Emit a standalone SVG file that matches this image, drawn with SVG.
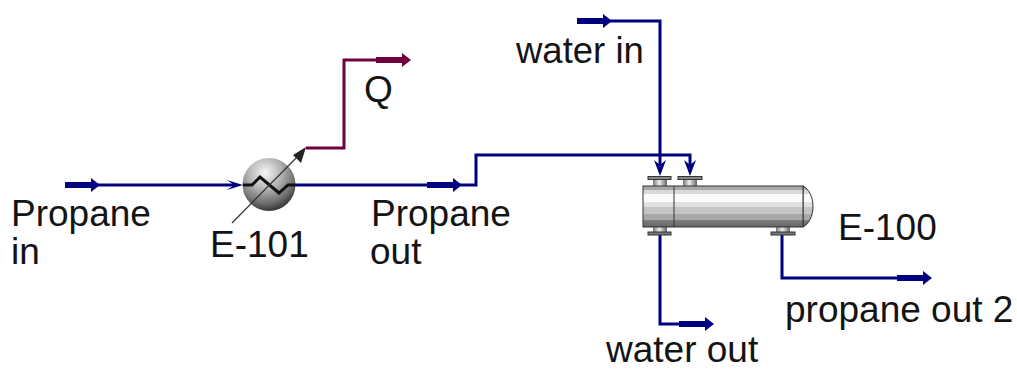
<svg xmlns="http://www.w3.org/2000/svg" width="1017" height="370" viewBox="0 0 1017 370">
<style>
text{font-family:"Liberation Sans",Arial,sans-serif;font-size:37px;fill:#141414}
.s{fill:none;stroke:#000080;stroke-width:3}
.e{fill:none;stroke:#70003f;stroke-width:3}
.b{fill:#000080}
.m{fill:#70003f}
.o{stroke:#333;stroke-width:1}
</style>
<defs>
<radialGradient id="ball" cx="0.42" cy="0.28" r="0.78"><stop offset="0" stop-color="#f6f6f6"/><stop offset="0.4" stop-color="#b4b4b4"/><stop offset="0.75" stop-color="#6a6a6a"/><stop offset="1" stop-color="#222"/></radialGradient>
<linearGradient id="shell" x1="0" y1="0" x2="0" y2="1">
<stop offset="0" stop-color="#a8a8a8"/><stop offset="0.1" stop-color="#a8a8a8"/><stop offset="0.1" stop-color="#d8d8d8"/><stop offset="0.2" stop-color="#d8d8d8"/><stop offset="0.2" stop-color="#fafafa"/><stop offset="0.38" stop-color="#fafafa"/><stop offset="0.38" stop-color="#e0e0e0"/><stop offset="0.5" stop-color="#e0e0e0"/><stop offset="0.5" stop-color="#c4c4c4"/><stop offset="0.68" stop-color="#c4c4c4"/><stop offset="0.68" stop-color="#a8a8a8"/><stop offset="0.82" stop-color="#a8a8a8"/><stop offset="0.82" stop-color="#808080"/><stop offset="1" stop-color="#666"/></linearGradient>
<linearGradient id="noz" x1="0" y1="0" x2="1" y2="0"><stop offset="0" stop-color="#777"/><stop offset="0.45" stop-color="#eee"/><stop offset="1" stop-color="#666"/></linearGradient>
<g id="ar"><path d="M-35 -3H-9V-7L0 0L-9 7V3H-35Z"/></g>
<g id="dn"><path d="M-6 -16L0 -11L6 -16L0 0Z"/></g>
</defs>
<g id="connectors">
<path class="s" d="M65 185H235"/>
<path class="s" d="M296 185H476V155H690V172"/>
<path class="s" d="M577 21H660V172"/>
<path class="s" d="M660 235V324H705"/>
<path class="s" d="M782 235V278H925"/>
<path class="e" d="M306 148H344V60H405"/>
<use href="#ar" class="b" x="100" y="185"/>
<path class="b" d="M227 180L234 185L227 190L243 185Z"/>
<use href="#ar" class="b" x="462" y="185"/>
<use href="#ar" class="b" x="612" y="21"/>
<use href="#ar" class="b" x="714" y="324"/>
<use href="#ar" class="b" x="932" y="278"/>
<use href="#ar" class="m" x="411" y="60"/>
<use href="#dn" class="b" x="660" y="176"/>
<use href="#dn" class="b" x="690" y="176"/>
</g>
<g id="E-101">
<circle cx="269" cy="184.500" r="26.500" fill="url(#ball)"/>
<path d="M243 185H252L260 177L279 193L288 185H296" fill="none" stroke="#111" stroke-width="3"/>
<path d="M232 223L300 154" stroke="#333" stroke-width="1.200"/>
<path d="M306 147L293 155L301 163Z" fill="#222"/>
</g>
<g id="E-100">
<rect x="653" y="178" width="14" height="9" fill="url(#noz)"/>
<rect class="o" x="648" y="176.500" width="23" height="3" fill="#888"/>
<rect x="683" y="178" width="14" height="9" fill="url(#noz)"/>
<rect class="o" x="678" y="176.500" width="24" height="3" fill="#888"/>
<rect x="653" y="226" width="14" height="7" fill="url(#noz)"/>
<rect class="o" x="648" y="232" width="23" height="3" fill="#777"/>
<rect x="776" y="226" width="14" height="7" fill="url(#noz)"/>
<rect class="o" x="771" y="232" width="24" height="3" fill="#777"/>
<path d="M803 186C809 189 813 197 813 206.500C813 216 809 224 803 227Z" fill="url(#shell)" stroke="#333"/>
<rect x="643" y="186" width="160" height="41" fill="url(#shell)" stroke="#333"/>
<path d="M674 186V227" stroke="#333"/>
</g>
<g id="labels">
<text x="11" y="226">Propane</text><text x="11" y="264">in</text>
<text x="210" y="257">E-101</text>
<text x="371" y="226">Propane</text><text x="370" y="264">out</text>
<text x="364" y="102">Q</text>
<text x="516" y="63" style="font-size:36.500px">water in</text>
<text x="838" y="240">E-100</text>
<text x="785" y="322">propane out 2</text>
<text x="606" y="362">water out</text>
</g>
</svg>
